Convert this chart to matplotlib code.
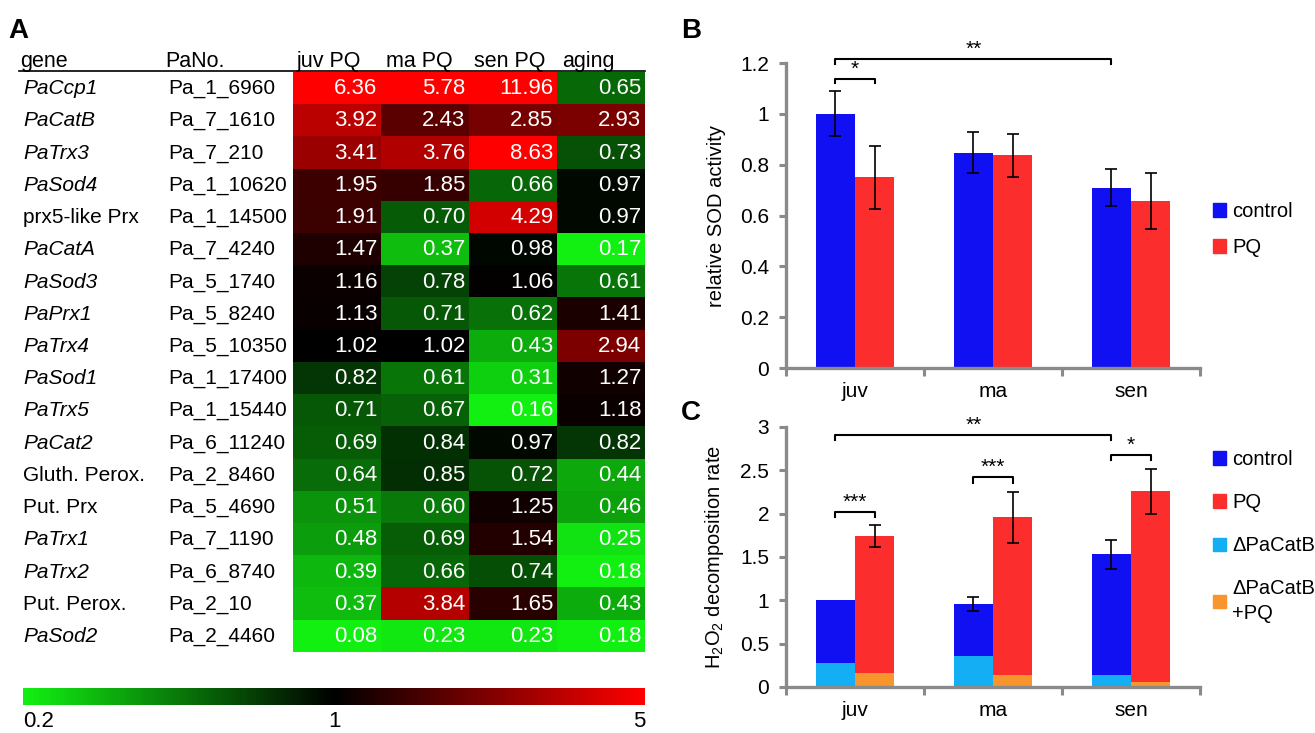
import matplotlib
matplotlib.use("Agg")
import matplotlib.pyplot as plt
import numpy as np
from matplotlib.colors import LinearSegmentedColormap, TwoSlopeNorm
from matplotlib.lines import Line2D
from matplotlib.patches import Patch
from matplotlib.ticker import FuncFormatter
from matplotlib.transforms import blended_transform_factory

plt.rcParams.update({
    "font.family": ["Liberation Sans", "DejaVu Sans"],
    "font.size": 14,
    "mathtext.fontset": "custom",
    "mathtext.rm": "Liberation Sans",
    "mathtext.it": "Liberation Sans:italic",
})

# ---- panel A data: fold change of expression ----
genes = ["PaCcp1", "PaCatB", "PaTrx3", "PaSod4", "prx5-like Prx", "PaCatA",
         "PaSod3", "PaPrx1", "PaTrx4", "PaSod1", "PaTrx5", "PaCat2",
         "Gluth. Perox.", "Put. Prx", "PaTrx1", "PaTrx2", "Put. Perox.", "PaSod2"]
pa_numbers = ["Pa_1_6960", "Pa_7_1610", "Pa_7_210", "Pa_1_10620", "Pa_1_14500",
              "Pa_7_4240", "Pa_5_1740", "Pa_5_8240", "Pa_5_10350", "Pa_1_17400",
              "Pa_1_15440", "Pa_6_11240", "Pa_2_8460", "Pa_5_4690", "Pa_7_1190",
              "Pa_6_8740", "Pa_2_10", "Pa_2_4460"]
conditions = ["juv PQ", "ma PQ", "sen PQ", "aging"]
juv_pq = [6.36, 3.92, 3.41, 1.95, 1.91, 1.47, 1.16, 1.13, 1.02, 0.82, 0.71, 0.69,
          0.64, 0.51, 0.48, 0.39, 0.37, 0.08]
ma_pq = [5.78, 2.43, 3.76, 1.85, 0.70, 0.37, 0.78, 0.71, 1.02, 0.61, 0.67, 0.84,
         0.85, 0.60, 0.69, 0.66, 3.84, 0.23]
sen_pq = [11.96, 2.85, 8.63, 0.66, 4.29, 0.98, 1.06, 0.62, 0.43, 0.31, 0.16, 0.97,
          0.72, 1.25, 1.54, 0.74, 1.65, 0.23]
aging = [0.65, 2.93, 0.73, 0.97, 0.97, 0.17, 0.61, 1.41, 2.94, 1.27, 1.18, 0.82,
         0.44, 0.46, 0.25, 0.18, 0.43, 0.18]
cbar_ticks = [0.2, 1, 5]

# ---- panel B: SOD activity ----
ages = ["juv", "ma", "sen"]
sod_control = [1.0, 0.847, 0.71]
sod_control_err = [0.088, 0.08, 0.073]
sod_pq = [0.75, 0.837, 0.657]
sod_pq_err = [0.125, 0.085, 0.11]

# ---- panel C: H2O2 decomposition ----
h2o2_control = [1.0, 0.96, 1.53]
h2o2_control_err = [0.0, 0.08, 0.165]
h2o2_pq = [1.74, 1.96, 2.26]
h2o2_pq_err = [0.13, 0.295, 0.26]
h2o2_catb = [0.28, 0.36, 0.14]
h2o2_catb_pq = [0.16, 0.14, 0.06]

BLUE = "#1010f2"
RED = "#fc2d2d"
CYAN = "#14aef5"
ORANGE = "#f8952c"
AXGRAY = "#8a8a8a"

W, H = 1315, 733
fig = plt.figure(figsize=(W / 100, H / 100), dpi=100)


def rect(x0, y0, x1, y1):
    return [x0 / W, 1 - y1 / H, (x1 - x0) / W, (y1 - y0) / H]


def fx(x):
    return x / W


def fy(y):
    return 1 - y / H


# ================= A =================
fig.text(fx(8), fy(18), "A", fontsize=20, fontweight="bold", va="top")

mat = np.array([juv_pq, ma_pq, sen_pq, aging]).T
cmap = LinearSegmentedColormap.from_list("gkr", ["#12f012", "#000000", "#ff0000"])
norm = TwoSlopeNorm(vmin=0.2, vcenter=1, vmax=5)
axA = fig.add_axes(rect(293, 72, 645, 652))
im = axA.imshow(mat, cmap=cmap, norm=norm, aspect="auto", interpolation="nearest")
axA.set_axis_off()
for i in range(mat.shape[0]):
    for j in range(mat.shape[1]):
        axA.text(j + 0.46, i + 0.02, f"{mat[i, j]:.2f}", ha="right", va="center",
                 color="white", fontsize=16)

tr = blended_transform_factory(fig.transFigure, axA.transData)
for i, (g, p) in enumerate(zip(genes, pa_numbers)):
    axA.text(fx(23), i + 0.02, g, transform=tr, ha="left", va="center",
             fontsize=15, style="italic" if g.startswith("Pa") else "normal",
             clip_on=False)
    axA.text(fx(168), i + 0.02, p, transform=tr, ha="left", va="center",
             fontsize=15, clip_on=False)

header_x = [20, 165, 297, 386, 474, 562]
for x, t in zip(header_x, ["gene", "PaNo."] + conditions):
    fig.text(fx(x), fy(67), t, fontsize=15.5, ha="left", va="baseline")
fig.add_artist(Line2D([fx(19), fx(645)], [fy(71), fy(71)], color="black", lw=1.2))

cax = fig.add_axes(rect(23, 688, 645, 705))
cb = fig.colorbar(im, cax=cax, orientation="horizontal", ticks=cbar_ticks)
cb.outline.set_visible(False)
cb.set_ticklabels([f"{t:g}" for t in cbar_ticks])
cax.tick_params(length=0, labelsize=16, pad=4)
lbls = cax.get_xticklabels()
lbls[0].set_ha("left")
lbls[-1].set_ha("right")


# ================= B and C =================
def style_bar_axes(ax, ymax, ystep):
    ax.set_xlim(-0.5, 2.5)
    ax.set_ylim(0, ymax)
    ax.set_yticks(np.arange(0, ymax + 1e-9, ystep))
    ax.yaxis.set_major_formatter(FuncFormatter(lambda v, p: f"{v:g}"))
    for s in ["top", "right"]:
        ax.spines[s].set_visible(False)
    for s in ["left", "bottom"]:
        ax.spines[s].set_color(AXGRAY)
        ax.spines[s].set_linewidth(2.4)
    ax.set_xticks([-0.5, 0.5, 1.5, 2.5])
    ax.set_xticklabels([])
    ax.set_xticks([0, 1, 2], minor=True)
    ax.set_xticklabels(ages, minor=True)
    ax.tick_params(axis="x", which="major", direction="out", length=6, width=2.2,
                   color=AXGRAY)
    ax.tick_params(axis="x", which="minor", length=0, labelsize=15, pad=10)
    ax.tick_params(axis="y", direction="out", length=5, width=2.2, color=AXGRAY,
                   labelsize=15, pad=7)


def bracket(ax, x0, x1, y, h, text):
    ax.plot([x0, x0, x1, x1], [y - h, y, y, y - h], color="black", lw=1.5,
            clip_on=False)
    ax.text((x0 + x1) / 2, y, text, ha="center", va="bottom", fontsize=15,
            clip_on=False)


w = 0.283
x = np.arange(len(ages))
xc = x - w / 2
xp = x + w / 2

fig.text(fx(681), fy(18), "B", fontsize=20, fontweight="bold", va="top")
axB = fig.add_axes(rect(786, 63, 1200, 368))
axB.bar(xc, sod_control, w, color=BLUE, label="control")
axB.bar(xp, sod_pq, w, color=RED, label="PQ")
axB.errorbar(xc, sod_control, yerr=sod_control_err, fmt="none", ecolor="black",
             elinewidth=1.2, capsize=4, capthick=1.2)
axB.errorbar(xp, sod_pq, yerr=sod_pq_err, fmt="none", ecolor="black",
             elinewidth=1.2, capsize=4, capthick=1.2)
style_bar_axes(axB, 1.2, 0.2)
axB.set_ylabel("relative SOD activity", fontsize=14.5, labelpad=10)
bracket(axB, xc[0], xp[0], 1.138, 0.016, "*")
bracket(axB, xc[0], xc[2], 1.215, 0.018, "**")
axB.legend(handles=[Patch(color=BLUE), Patch(color=RED)], labels=["control", "PQ"],
           loc="upper left", bbox_to_anchor=(fx(1213), fy(202)),
           bbox_transform=fig.transFigure, frameon=False, fontsize=14.5,
           handlelength=0.65, handleheight=0.65, handletextpad=0.3,
           labelspacing=0.85, borderpad=0, borderaxespad=0)

fig.text(fx(681), fy(400), "C", fontsize=20, fontweight="bold", va="top")
axC = fig.add_axes(rect(786, 427, 1200, 687))
axC.bar(xc, h2o2_control, w, color=BLUE)
axC.bar(xp, h2o2_pq, w, color=RED)
axC.bar(xc, h2o2_catb, w, color=CYAN)
axC.bar(xp, h2o2_catb_pq, w, color=ORANGE)
for xi, v, e in zip(xc, h2o2_control, h2o2_control_err):
    if e > 0:
        axC.errorbar(xi, v, yerr=e, fmt="none", ecolor="black", elinewidth=1.2,
                     capsize=4, capthick=1.2)
axC.errorbar(xp, h2o2_pq, yerr=h2o2_pq_err, fmt="none", ecolor="black",
             elinewidth=1.2, capsize=4, capthick=1.2)
style_bar_axes(axC, 3, 0.5)
axC.set_ylabel(r"H$_2$O$_2$ decomposition rate", fontsize=14.5, labelpad=10)
bracket(axC, xc[0], xc[2], 2.91, 0.06, "**")
bracket(axC, xc[0], xp[0], 2.02, 0.06, "***")
bracket(axC, xc[1], xp[1], 2.42, 0.07, "***")
bracket(axC, xc[2], xp[2], 2.68, 0.06, "*")
legC = axC.legend(handles=[Patch(color=BLUE), Patch(color=RED), Patch(color=CYAN),
                           Patch(color=ORANGE)],
                  labels=["control", "PQ", "\u0394PaCatB", "\u0394PaCatB\n+PQ"],
                  loc="upper left", bbox_to_anchor=(fx(1213), fy(450)),
                  bbox_transform=fig.transFigure, frameon=False, fontsize=14.5,
                  handlelength=0.65, handleheight=0.65, handletextpad=0.3,
                  labelspacing=1.2, borderpad=0, borderaxespad=0)
legC.get_texts()[3].set_linespacing(1.35)

fig.savefig("out.png", dpi=100)
